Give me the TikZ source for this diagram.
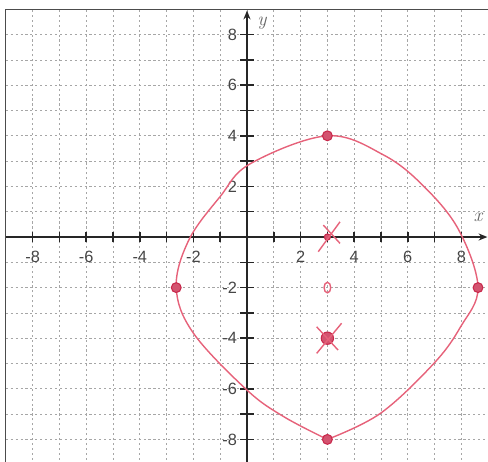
\documentclass[tikz,border=0pt]{standalone}
\usepackage{fontspec}
\setsansfont{Liberation Sans}
\usetikzlibrary{arrows.meta}
\definecolor{inkred}{RGB}{230,98,122}
\definecolor{dotred}{RGB}{200,40,75}
\definecolor{numgray}{RGB}{70,70,70}

\begin{document}
\begin{tikzpicture}[
    x=0.536cm, y=0.506cm,
    gridline/.style={gray!70, line width=0.4pt, dash pattern=on 1.2pt off 1.6pt},
    frameline/.style={black!70, line width=0.6pt},
    axis/.style={black!85, line width=1.1pt, -{Stealth[length=5pt,width=4pt]}},
    tickmark/.style={black!85, line width=0.9pt},
    num/.style={font=\sffamily\fontsize{9.3}{11}\selectfont, text=numgray, inner sep=0.5pt},
    varlbl/.style={font=\itshape\fontsize{11}{13}\selectfont, text=black!60, inner sep=0pt},
    ink/.style={draw=inkred, line width=0.8pt},
    dot/.style={circle, fill=dotred!80, draw=dotred, line width=0.6pt, minimum size=5.6pt, inner sep=0pt}
]
\useasboundingbox (-9.216,-8.854) rectangle (8.993,9.368);

% --- Grid and frame ---
\foreach \i in {-8,...,9} \draw[gridline] (\i,-9) -- (\i,9);
\foreach \j in {-8,...,8} \draw[gridline] (-9,\j) -- (9.1,\j);
\draw[frameline] (-9,-9) -- (-9,9) -- (9.1,9);

% --- Axes ---
\coordinate (xstart) at (-9,0);
\coordinate (xend)   at (8.97,0);
\coordinate (ystart) at (0,-9);
\coordinate (yend)   at (0,8.95);
\draw[axis] (xstart) -- (xend);
\draw[axis] (ystart) -- (yend);
\foreach \i in {-8,...,-1,1,2,...,8} {
  \draw[tickmark] (\i,-0.21) -- (\i,0.21);
  \draw[tickmark] (-0.27,\i) -- (0.27,\i);
}

% --- Tick labels ---
\foreach \i in {-8,-6,-4,-2,2,4,6,8} {
  \node[num] (xl\i) at (\i,-0.79) {\i};
  \node[num, anchor=east] (yl\i) at (-0.33,\i) {\i};
}
\node[varlbl] (xlab) at (8.62,0.79) {x};
\node[varlbl] (ylab) at (0.56,8.46) {y};

% --- Hand-drawn ellipse ---
\draw[ink] plot[smooth, tension=0.6] coordinates {
  (3,-8) (4.98,-6.97) (6.97,-5.0) (7.97,-3.55) (8.62,-2)
  (7.9,0.28) (6.6,2.0) (5.1,3.24) (3,4) (0.13,2.9)
  (-1.0,1.6) (-2.17,-0.12) (-2.64,-2) (-2.0,-3.8)
  (0,-6.05) (1.37,-7.1) (3,-8)
};

% --- Vertices ---
\node[dot] (vtop)   at (3,4)      {};
\node[dot] (vbot)   at (3,-8)     {};
\node[dot] (vleft)  at (-2.64,-2) {};
\node[dot] (vright) at (8.62,-2)  {};

% --- Centre ---
\draw[ink] (3,-2) ellipse [x radius=1.9pt, y radius=3pt];

% --- Foci ---
\node[dot, minimum size=3.5pt] (fone) at (3,0)  {};
\node[dot, minimum size=7pt]   (ftwo) at (3,-4) {};
\draw[ink] (2.66,-0.58) -- (3.47,0.6);
\draw[ink] (2.85,0.47) -- (3.47,-0.25);
\draw[ink] (2.6,-4.6) -- (3.53,-3.41);
\draw[ink] (2.6,-3.55) -- (3.4,-4.47);
\end{tikzpicture}
\end{document}
